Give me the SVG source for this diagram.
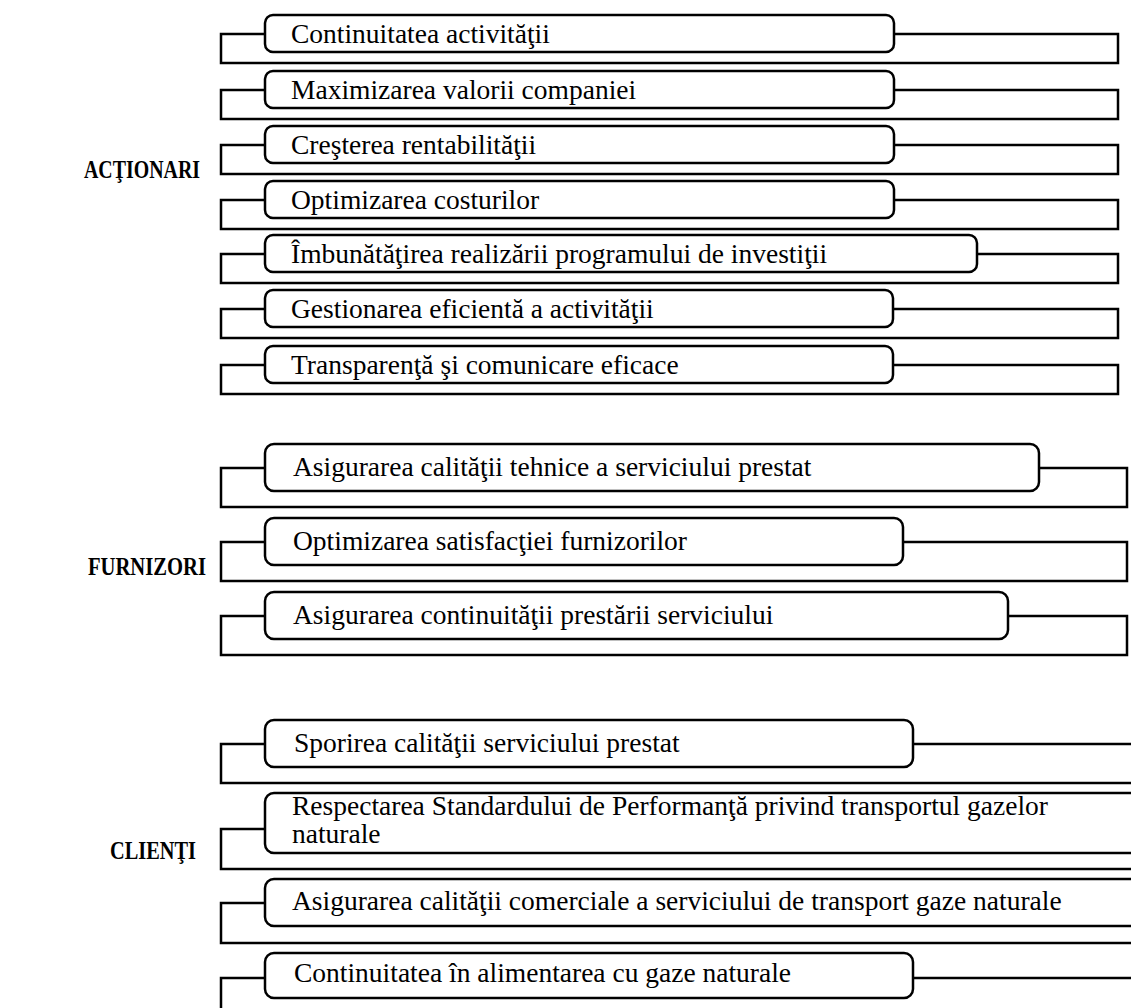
<svg xmlns="http://www.w3.org/2000/svg" width="1131" height="1008" viewBox="0 0 1131 1008">
<style>
.frame{fill:none;stroke:#000;stroke-width:2.5}
.box{fill:#fff;stroke:#000;stroke-width:2.5}
.t{font-family:"Liberation Serif","Times New Roman",serif;font-size:27.5px;fill:#000}
.lbl{font-family:"Liberation Serif","Times New Roman",serif;font-size:25px;font-weight:bold;fill:#000}
</style>
<rect width="1131" height="1008" fill="#fff"/>
<g id="connectors">
<rect class="frame" x="221" y="34" width="897" height="29"/>
<rect class="frame" x="221" y="90" width="897" height="29"/>
<rect class="frame" x="221" y="145" width="897" height="29"/>
<rect class="frame" x="221" y="200" width="897" height="29"/>
<rect class="frame" x="221" y="254" width="897" height="29"/>
<rect class="frame" x="221" y="309" width="897" height="29"/>
<rect class="frame" x="221" y="365" width="897" height="29"/>
<rect class="frame" x="221" y="468" width="906" height="39"/>
<rect class="frame" x="221" y="542" width="906" height="39"/>
<rect class="frame" x="221" y="616" width="906" height="39"/>
<rect class="frame" x="221" y="744" width="930" height="39"/>
<rect class="frame" x="221" y="829" width="930" height="40"/>
<rect class="frame" x="221" y="903" width="930" height="40"/>
<rect class="frame" x="221" y="978" width="930" height="40"/>
</g>
<g id="label-actionari"><text class="lbl" x="84" y="178" textLength="116" lengthAdjust="spacingAndGlyphs">ACŢIONARI</text></g>
<g id="label-furnizori"><text class="lbl" x="88" y="575" textLength="118" lengthAdjust="spacingAndGlyphs">FURNIZORI</text></g>
<g id="label-clienti"><text class="lbl" x="110" y="859" textLength="86" lengthAdjust="spacingAndGlyphs">CLIENŢI</text></g>
<g id="a1"><rect class="box" x="265" y="15" width="629" height="37" rx="8"/><text class="t" x="291" y="43">Continuitatea activităţii</text></g>
<g id="a2"><rect class="box" x="265" y="71" width="629" height="37" rx="8"/><text class="t" x="291" y="99">Maximizarea valorii companiei</text></g>
<g id="a3"><rect class="box" x="265" y="126" width="629" height="37" rx="8"/><text class="t" x="291" y="154">Creşterea rentabilităţii</text></g>
<g id="a4"><rect class="box" x="265" y="181" width="629" height="37" rx="8"/><text class="t" x="291" y="209">Optimizarea costurilor</text></g>
<g id="a5"><rect class="box" x="265" y="235" width="712" height="37" rx="8"/><text class="t" x="291" y="263">Îmbunătăţirea realizării programului de investiţii</text></g>
<g id="a6"><rect class="box" x="265" y="290" width="628" height="37" rx="8"/><text class="t" x="291" y="318">Gestionarea eficientă a activităţii</text></g>
<g id="a7"><rect class="box" x="265" y="346" width="628" height="37" rx="8"/><text class="t" x="291" y="374">Transparenţă şi comunicare eficace</text></g>
<g id="f1"><rect class="box" x="265" y="444" width="774" height="47" rx="9"/><text class="t" x="293" y="476">Asigurarea calităţii tehnice a serviciului prestat</text></g>
<g id="f2"><rect class="box" x="265" y="518" width="638" height="47" rx="9"/><text class="t" x="293" y="550">Optimizarea satisfacţiei furnizorilor</text></g>
<g id="f3"><rect class="box" x="265" y="592" width="743" height="47" rx="9"/><text class="t" x="293" y="624">Asigurarea continuităţii prestării serviciului</text></g>
<g id="c1"><rect class="box" x="265" y="720" width="648" height="47" rx="9"/><text class="t" x="294" y="752">Sporirea calităţii serviciului prestat</text></g>
<g id="c2"><rect class="box" x="265" y="793" width="900" height="60" rx="9"/><text class="t" x="292" y="815">Respectarea Standardului de Performanţă privind transportul gazelor</text><text class="t" x="292" y="843">naturale</text></g>
<g id="c3"><rect class="box" x="265" y="879" width="900" height="47" rx="9"/><text class="t" x="292" y="910">Asigurarea calităţii comerciale a serviciului de transport gaze naturale</text></g>
<g id="c4"><rect class="box" x="265" y="953" width="648" height="45" rx="9"/><text class="t" x="294" y="982">Continuitatea în alimentarea cu gaze naturale</text></g>
</svg>
